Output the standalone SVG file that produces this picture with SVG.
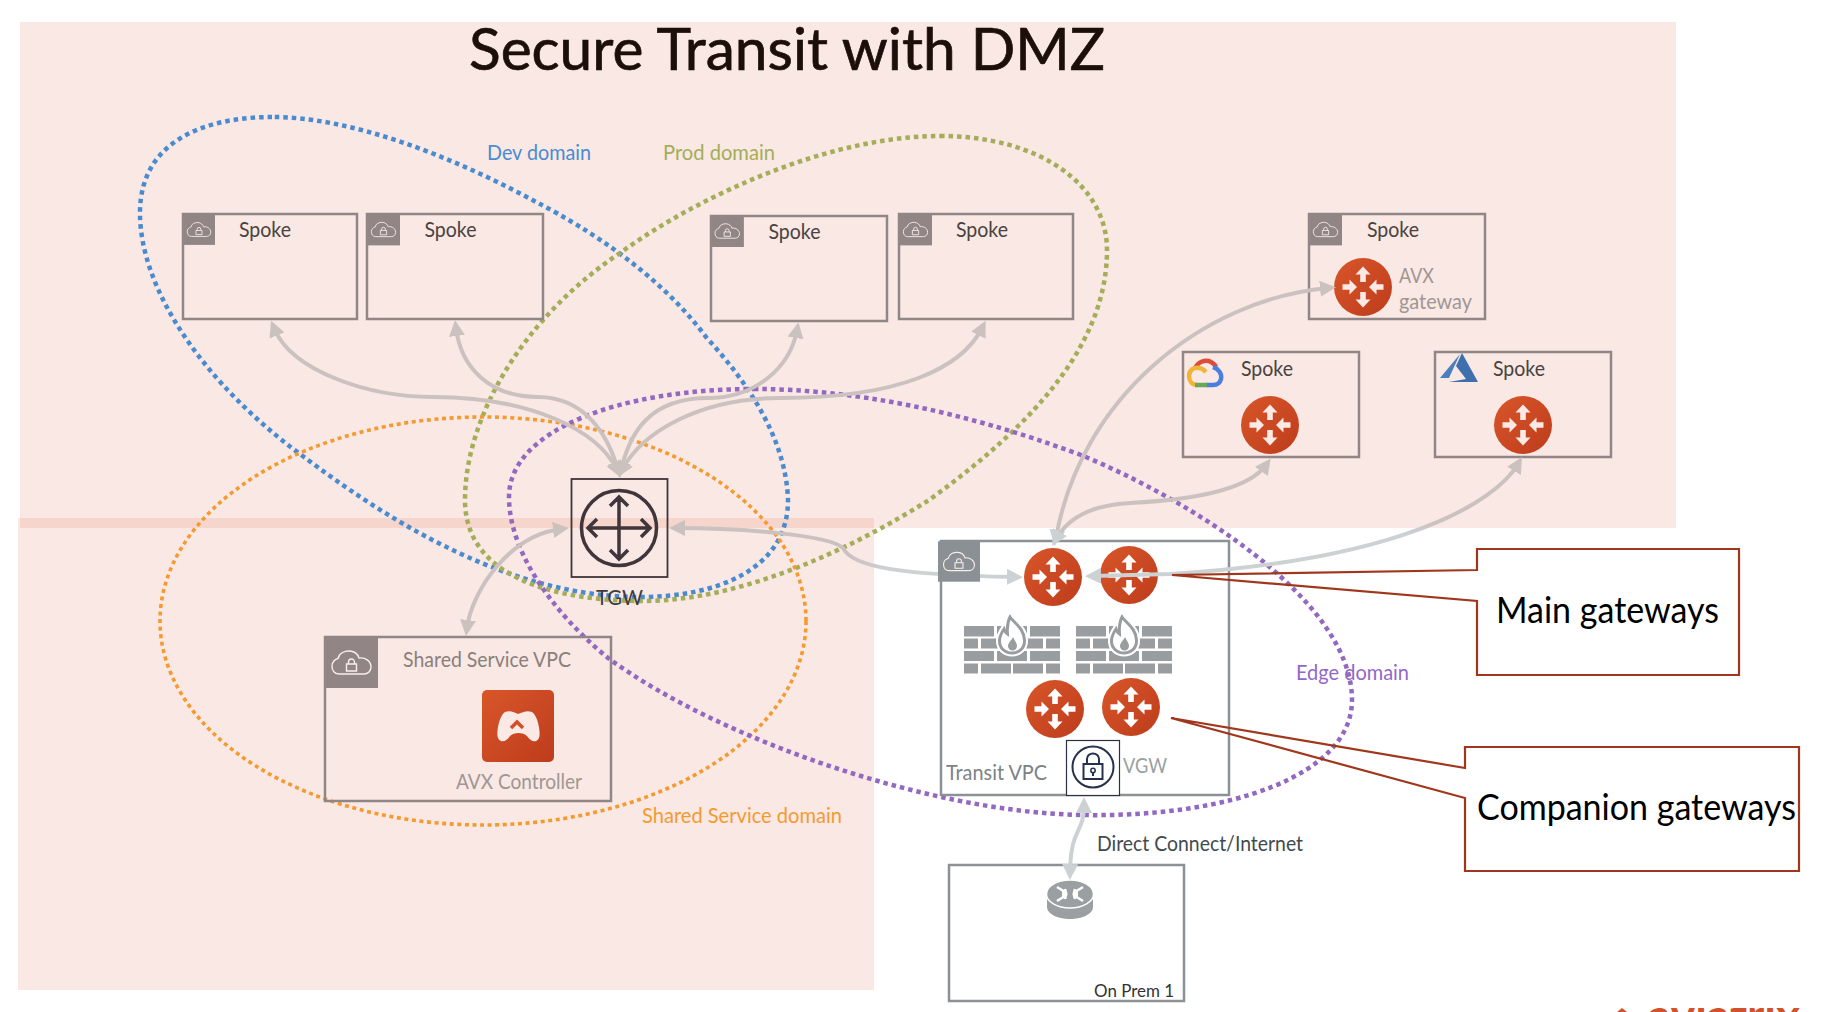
<svg xmlns="http://www.w3.org/2000/svg" width="1834" height="1012" viewBox="0 0 1834 1012">
<style>
text{font-family:Lato,"Liberation Sans",sans-serif}
.box{fill:none;stroke:#918685;stroke-width:2.5}
.boxg{fill:none;stroke:#8b9194;stroke-width:2.5}
.dom{fill:none;stroke-width:4.5;stroke-dasharray:4.5 4}
.dom2{fill:none;stroke-width:3.6;stroke-dasharray:4 3.6}
.sp{font-size:21px;fill:#4a4240}
.lt{font-size:21px;fill:#a09694}
.con{fill:none;stroke:#cbc2c0;stroke-width:4}
.call{fill:none;stroke:#a0371c;stroke-width:2.2}
.big{font-size:36px;fill:#000}
</style>
<defs>
<linearGradient id="og" x1="0" y1="0" x2="1" y2="1"><stop offset="0" stop-color="#d9562a"/><stop offset="1" stop-color="#bd3c1b"/></linearGradient>
<linearGradient id="h1" gradientUnits="userSpaceOnUse" x1="850" y1="0" x2="890" y2="0"><stop offset="0" stop-color="#cbc2c0"/><stop offset="1" stop-color="#ccd1d4"/></linearGradient>
<linearGradient id="v1" gradientUnits="userSpaceOnUse" x1="0" y1="524" x2="0" y2="534"><stop offset="0" stop-color="#cbc2c0"/><stop offset="1" stop-color="#ccd1d4"/></linearGradient>
<clipPath id="logoclip"><rect x="1600" y="1008" width="234" height="4"/></clipPath>
<marker id="ap" viewBox="0 0 16 16" refX="8" refY="8" markerUnits="userSpaceOnUse" markerWidth="16" markerHeight="16" orient="auto-start-reverse"><path d="M0 0L16 8L0 16Z" fill="#cbc2c0"/></marker>
<marker id="aw" viewBox="0 0 16 16" refX="8" refY="8" markerUnits="userSpaceOnUse" markerWidth="16" markerHeight="16" orient="auto-start-reverse"><path d="M0 0L16 8L0 16Z" fill="#ccd1d4"/></marker>
<symbol id="router" viewBox="-30 -30 60 60" overflow="visible">
<circle r="29" fill="url(#og)"/>
<path fill="currentColor" d="M0 -20.500L7.500 -12.500H2.800V-5H-2.800V-12.500H-7.500ZM0 20.500L7.500 12.500H2.800V5H-2.800V12.500H-7.500ZM-6 0L-13.500 -7.500V-2.800H-20.500V2.800H-13.500V7.500ZM6 0L13.500 -7.500V-2.800H20.500V2.800H13.500V7.500Z"/>
</symbol>
<symbol id="cloud" viewBox="0 0 53 51">
<rect width="53" height="51" fill="currentColor"/>
<path fill="none" stroke="#f7efec" stroke-width="1.4" d="M14 37C9 37 7 33 7 29C7 25 10 22 13 21.5C14 16 20 13.5 25 14C30 14.5 33 17.5 34 21C40 20 46 24 46 30C46 34 43 37 39 37Z"/>
<path fill="none" stroke="#f7efec" stroke-width="1.4" d="M21.500 27h10v7h-10zM23.500 27v-2a3 3 0 0 1 6 0v2"/>
</symbol>
<g id="fw">
<path fill="#9a9da0" d="M0 0h30v10.500h-30zM33 0h30v10.500h-30zM66 0h30v10.500h-30zM0 12.500h14v10h-14zM17 12.500h30v10h-30zM49 12.500h30v10h-30zM82 12.500h14v10h-14zM0 25h30v10h-30zM33 25h30v10h-30zM66 25h30v10h-30zM0 37.500h14v10h-14zM17 37.500h30v10h-30zM49 37.500h30v10h-30zM82 37.500h14v10h-14z"/>
<path d="M46 -9C50 -3 60 2 60.500 14C61 23 54 27 48 27C41 27 35 22 35.500 14C36 9 38 6 40 3C41 6 42 7 43.500 8C43 2 43 -3 46 -9Z" fill="#fff" stroke="#fff" stroke-width="7"/>
<path d="M46 -9C50 -3 60 2 60.500 14C61 23 54 27 48 27C41 27 35 22 35.500 14C36 9 38 6 40 3C41 6 42 7 43.500 8C43 2 43 -3 46 -9Z" fill="#fff" stroke="#9a9da0" stroke-width="3"/>
<path d="M49 11C51 15 53 17 53 20a4.500 4.500 0 0 1 -9 0C44 17 47 15 49 11Z" fill="#9a9da0"/>
</g>
</defs>

<g id="background">
<rect x="20" y="22" width="1656" height="506" fill="#f9e8e4"/>
<rect x="18" y="518" width="856" height="472" fill="#f9e8e4"/>
<rect x="20" y="518" width="854" height="10" fill="#f5d5cc"/>
</g>

<g id="domains">
<path class="dom" stroke="#4a8bd0" d="M272 117C215 117 140 135 140 213C140 290 205 385 304 457C375 510 500 597 640 597C716 597 788 570 788 500C786 440 750 385 706 337C660 275 590 230 538 203C450 155 350 117 272 117Z"/>
<path class="dom" stroke="#a4ad58" d="M940 136C1040 136 1107 185 1107 250C1107 340 1040 420 929 500C850 550 740 601 643 601C560 601 465 580 465 500C465 420 520 320 620 253C700 195 830 136 940 136Z"/>
<ellipse class="dom2" stroke="#f59a2f" cx="483" cy="621" rx="323" ry="204"/>
<path class="dom" stroke="#9268c0" d="M754 389C850 389 960 410 1081 455C1190 500 1352 600 1352 700C1352 775 1230 818 1081 815C930 812 720 740 608 658C550 610 509 550 509 497C509 430 620 389 754 389Z"/>
</g>

<g id="title"><text x="469" y="70" font-size="58" fill="#1c0f0a" stroke="#1c0f0a" stroke-width="0.7" textLength="636" lengthAdjust="spacingAndGlyphs">Secure Transit with DMZ</text></g>

<g id="domain-labels">
<text x="487" y="160" font-size="21" fill="#4a8bd0" textLength="104" lengthAdjust="spacingAndGlyphs">Dev domain</text>
<text x="663" y="160" font-size="21" fill="#a4ad58" textLength="112" lengthAdjust="spacingAndGlyphs">Prod domain</text>
<text x="642" y="828" font-size="21" fill="#f59a2f" textLength="200" lengthAdjust="spacingAndGlyphs" dy="-5">Shared Service domain</text>
<text x="1296" y="680" font-size="21" fill="#9268c9" textLength="113" lengthAdjust="spacingAndGlyphs">Edge domain</text>
</g>

<g id="spoke1"><rect class="box" x="183" y="214" width="174" height="105"/><use href="#cloud" x="183" y="213" width="32" height="33" color="#918685"/><text class="sp" x="239" y="237" textLength="52" lengthAdjust="spacingAndGlyphs">Spoke</text></g>
<g id="spoke2"><rect class="box" x="367" y="214" width="176" height="105"/><use href="#cloud" x="367" y="213" width="33" height="33" color="#918685"/><text class="sp" x="424.500" y="237" textLength="52" lengthAdjust="spacingAndGlyphs">Spoke</text></g>
<g id="spoke3"><rect class="box" x="711" y="216" width="176" height="105"/><use href="#cloud" x="710.500" y="215" width="33.500" height="32" color="#918685"/><text class="sp" x="768.500" y="239" textLength="52" lengthAdjust="spacingAndGlyphs">Spoke</text></g>
<g id="spoke4"><rect class="box" x="899" y="214" width="174" height="105"/><use href="#cloud" x="899" y="213" width="33" height="33" color="#918685"/><text class="sp" x="956" y="237" textLength="52" lengthAdjust="spacingAndGlyphs">Spoke</text></g>
<g id="spoke5"><rect class="box" x="1309" y="214" width="176" height="105"/><use href="#cloud" x="1309" y="213" width="33" height="33" color="#918685"/><text class="sp" x="1367" y="237" textLength="52" lengthAdjust="spacingAndGlyphs">Spoke</text><use href="#router" x="1333" y="257" width="60" height="60" color="#fbe9e5"/><text class="lt" x="1399" y="283" textLength="35" lengthAdjust="spacingAndGlyphs">AVX</text><text class="lt" x="1399" y="309" textLength="73" lengthAdjust="spacingAndGlyphs">gateway</text></g>
<g id="spoke6"><rect class="box" x="1183" y="352" width="176" height="105"/>
<g fill="none" stroke-width="4.500"><path stroke="#dd4b39" d="M1195 369C1197 362 1205 359 1211 362C1213 363 1215 365 1216 367"/><path stroke="#4a7fdb" d="M1213 367C1219 369 1222 374 1221 379C1220 383 1217 385 1213 385L1206 385"/><path stroke="#f0b43a" d="M1197 385C1192 385 1189 381 1189 376C1189 370 1194 367 1199 368C1202 368 1204 370 1206 372"/><path stroke="#69a85c" d="M1195 385L1207 385"/></g>
<text class="sp" x="1241" y="376" textLength="52" lengthAdjust="spacingAndGlyphs">Spoke</text><use href="#router" x="1240" y="395" width="60" height="60" color="#fbe9e5"/></g>
<g id="spoke7"><rect class="box" x="1435" y="352" width="176" height="105"/>
<path fill="#4a80c0" d="M1460 354L1449 378H1440Z"/><path fill="#3f70ad" d="M1462 353L1478 382H1449L1466 379L1456 366Z"/>
<text class="sp" x="1493" y="376" textLength="52" lengthAdjust="spacingAndGlyphs">Spoke</text><use href="#router" x="1493" y="395" width="60" height="60" color="#fbe9e5"/></g>

<g id="tgw"><rect x="571.500" y="479" width="96" height="98" fill="none" stroke="#3f353a" stroke-width="1.800"/>
<circle cx="619" cy="528" r="37.500" fill="none" stroke="#3f353a" stroke-width="3.500"/>
<path fill="none" stroke="#3f353a" stroke-width="3.500" d="M619 497V559M588 528H650M610 506L619 497L628 506M610 550L619 559L628 550M597 519L588 528L597 537M641 519L650 528L641 537"/>
<text x="596" y="605" font-size="22" fill="#3c3c3c" textLength="47" lengthAdjust="spacingAndGlyphs">TGW</text></g>

<g id="shared-vpc"><rect class="box" x="325" y="637" width="286" height="164"/><use href="#cloud" x="325" y="637" width="53" height="51" color="#918685"/>
<text x="403" y="667" font-size="21" fill="#8a7f7b" textLength="168" lengthAdjust="spacingAndGlyphs">Shared Service VPC</text>
<rect x="482" y="690" width="72" height="72" rx="5" fill="url(#og)"/>
<path fill="#fbe9e5" d="M505 712C510 710 514 712 518 714C523 712 527 710 532 712C538 716 541 733 539 738C536 744 530 741 527 736C523 732 514 732 510 736C507 741 501 744 498 738C496 733 499 716 505 712Z"/>
<polyline points="511,728 517,722 523,728" fill="none" stroke="#d2512a" stroke-width="3.500"/>
<text x="456" y="789" font-size="21" fill="#a09694" textLength="126" lengthAdjust="spacingAndGlyphs">AVX Controller</text></g>

<g id="transit-vpc"><rect class="boxg" x="941" y="541" width="288" height="254"/>
<use href="#router" x="1023" y="547" width="60" height="60" color="#fff"/>
<use href="#router" x="1099" y="545" width="60" height="60" color="#fff"/>
<use href="#fw" x="964" y="626"/><use href="#fw" x="1076" y="626"/>
<use href="#router" x="1025" y="679" width="60" height="60" color="#fff"/>
<use href="#router" x="1101" y="677" width="60" height="60" color="#fff"/>
<text x="946" y="780" font-size="21" fill="#7d8285" textLength="101" lengthAdjust="spacingAndGlyphs">Transit VPC</text></g>

<g id="vgw"><rect x="1066.500" y="740.500" width="53" height="55" fill="#fff" stroke="#2a3242" stroke-width="1.200"/>
<circle cx="1093" cy="767" r="20.500" fill="none" stroke="#25324a" stroke-width="2"/>
<rect x="1083.500" y="764" width="19" height="15" fill="none" stroke="#25324a" stroke-width="2"/>
<path d="M1087 764V759a6 5.500 0 0 1 12 0V764M1093 773V776" fill="none" stroke="#25324a" stroke-width="2"/><circle cx="1093" cy="770.500" r="2.200" fill="none" stroke="#25324a" stroke-width="1.500"/>
<text x="1123" y="773" font-size="21" fill="#9a9fa2" textLength="44" lengthAdjust="spacingAndGlyphs">VGW</text></g>

<g id="on-prem"><rect class="boxg" x="949" y="865" width="235" height="136"/>
<path fill="#9a9fa2" d="M1047 899V907C1047 914 1058 919 1070 919C1082 919 1093 914 1093 907V899Z"/>
<ellipse cx="1070" cy="894" rx="23.500" ry="14" fill="#9a9fa2" stroke="#fff" stroke-width="1.500"/>
<path fill="none" stroke="#fff" stroke-width="2.600" d="M1057 887L1065 892M1062 893L1066 893L1065 889M1083 887L1075 892M1078 893L1074 893L1075 889M1057 901L1065 896M1062 895L1066 895L1065 899M1083 901L1075 896M1078 895L1074 895L1075 899"/>
<text x="1094" y="997" font-size="18" fill="#333" textLength="80" lengthAdjust="spacingAndGlyphs">On Prem 1</text></g>

<g id="connectors">
<path class="con" marker-start="url(#ap)" marker-end="url(#ap)" d="M274 328C292 372 370 397 433 397C530 397 598 430 617 470"/>
<path class="con" marker-start="url(#ap)" marker-end="url(#ap)" d="M456 328C461 368 490 397 538 397C585 397 608 435 618 470"/>
<path class="con" marker-start="url(#ap)" marker-end="url(#ap)" d="M797 330C790 368 755 398 708 398C650 398 630 432 621 470"/>
<path class="con" marker-start="url(#ap)" marker-end="url(#ap)" d="M982 328C962 368 900 398 780 398C700 398 642 432 622 470"/>
<path class="con" marker-start="url(#ap)" marker-end="url(#ap)" d="M467 628C472 590 510 535 561 529"/>
<path class="con" style="stroke:url(#h1)" marker-start="url(#ap)" marker-end="url(#aw)" d="M677 528C740 528 830 535 843 548C852 567 900 575 1015 577"/>
<path class="con" marker-start="url(#ap)" marker-end="url(#aw)" d="M1328 288C1200 300 1080 400 1056 538"/>
<path class="con" marker-start="url(#ap)" marker-end="url(#aw)" d="M1266 465C1248 490 1190 500 1130 503C1090 505 1068 518 1056 539"/>
<path class="con" style="stroke:url(#v1)" marker-start="url(#ap)" marker-end="url(#aw)" d="M1518 464C1495 503 1400 560 1170 574L1093 576"/>
<path class="con" style="stroke:#ccd1d4" marker-start="url(#aw)" marker-end="url(#aw)" d="M1084 805C1084 835 1071 825 1070 872"/>
</g>

<g id="transit-icon"><use href="#cloud" x="938" y="540" width="42" height="43" color="#8a9093"/></g>

<g id="direct-label"><text x="1097" y="851" font-size="21" fill="#3f4a4f" textLength="206" lengthAdjust="spacingAndGlyphs">Direct Connect/Internet</text></g>

<g id="main-callout"><path class="call" d="M1477 570V549H1739V675H1477V601L1172 575Z"/><text class="big" x="1496" y="623" textLength="223" lengthAdjust="spacingAndGlyphs">Main gateways</text></g>
<g id="companion-callout"><path class="call" d="M1465 768V747H1799V871H1465V798L1171 718Z"/><text class="big" x="1477" y="820" textLength="319" lengthAdjust="spacingAndGlyphs">Companion gateways</text></g>

<g id="logo"><path d="M1617 1012L1622 1008L1627 1012Z" fill="#d2512a"/><text clip-path="url(#logoclip)" x="1648" y="1033" font-size="48" font-weight="700" fill="#d2512a" textLength="152" lengthAdjust="spacingAndGlyphs">aviatrix</text></g>
</svg>
